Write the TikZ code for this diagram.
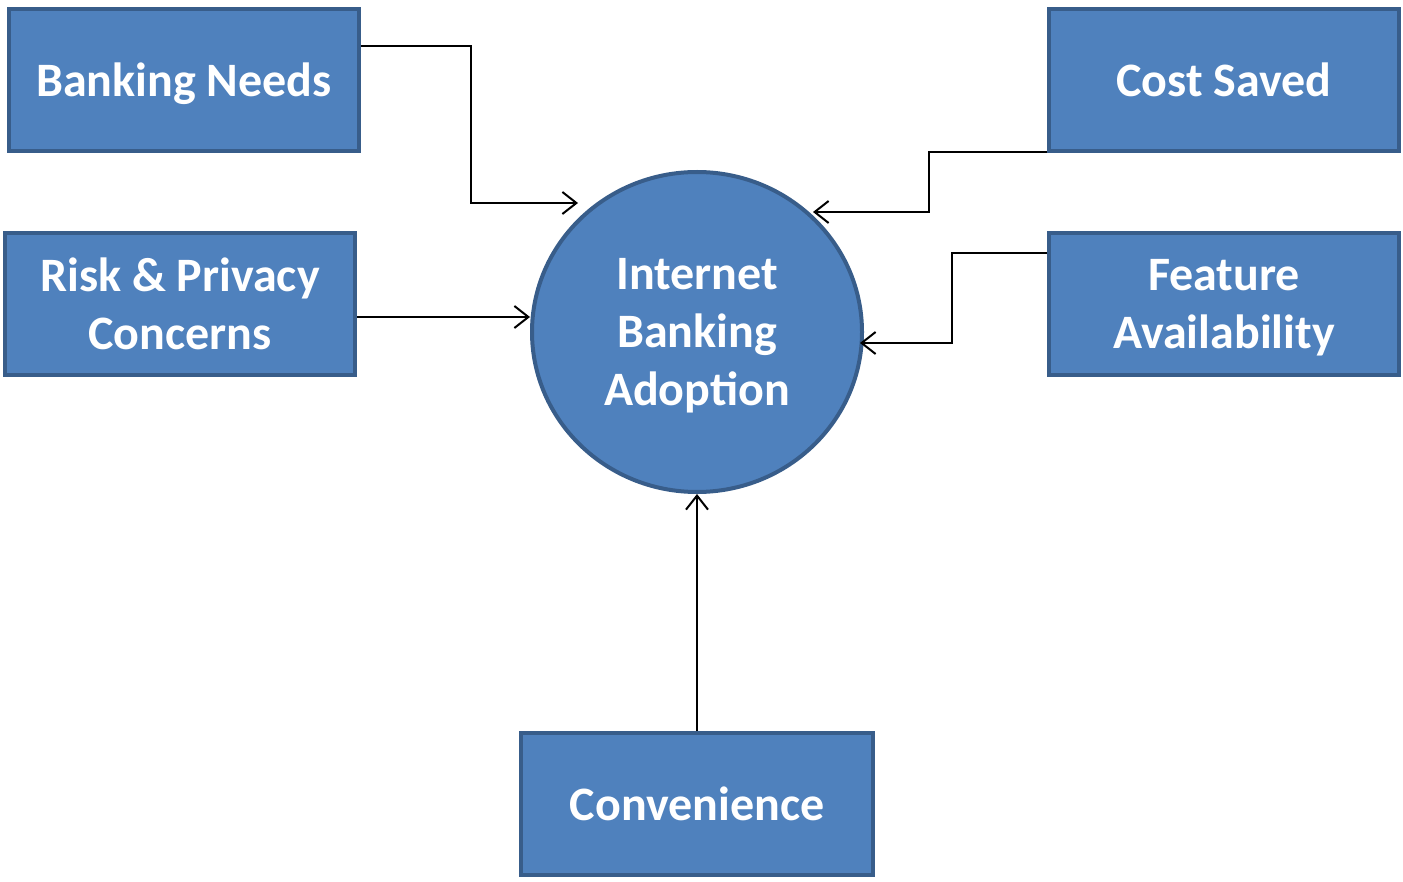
\documentclass[tikz,border=0pt]{standalone}
\usepackage{fontspec}
\setmainfont{Carlito}
\usetikzlibrary{arrows.meta,shapes.geometric}
\definecolor{boxfill}{HTML}{4F81BD}
\definecolor{boxline}{HTML}{385D8A}
\tikzset{
  factor/.style={draw=boxline, fill=boxfill, line width=4pt, rectangle,
    minimum width=350pt, minimum height=142pt, inner sep=0pt,
    text=white, align=center, text depth=0pt,
    font=\fontsize{48}{58}\selectfont\bfseries},
  hub/.style={draw=boxline, fill=boxfill, line width=4pt, ellipse,
    minimum width=330pt, minimum height=320pt, inner sep=0pt,
    text=white, align=center, text depth=0pt,
    font=\fontsize{48}{58}\selectfont\bfseries},
  link/.style={draw=black, line width=2pt,
    -{Straight Barb[length=14pt,width=22pt,line width=2pt]}}
}
\begin{document}
\begin{tikzpicture}[x=1pt,y=-1pt]
  \useasboundingbox (0,0) rectangle (1403,882);

  % central construct
  \node[hub] (iba) at (697,332) {Internet\\Banking\\Adoption};

  % influencing factors
  \node[factor] (needs)   at (184,80)  {Banking Needs};
  \node[factor] (risk)    at (180,304) {Risk \& Privacy\\Concerns};
  \node[factor] (cost)    at (1224,80) {Cost Saved};
  \node[factor] (feature) at (1224,304) {Feature\\Availability};
  \node[factor, minimum width=352pt] (conv) at (697,804) {Convenience};

  % arrow end points near the circle
  \coordinate (needsEnd) at (578,203);
  \coordinate (costEnd)  at (813,212);

  % connectors
  \draw[link] (needs.east |- 0,46) -| (471,120) |- (needsEnd);
  \draw[link] (risk.east |- 0,317) -- (iba.west |- 0,317);
  \draw[link] (cost.west |- 0,152) -| (929,180) |- (costEnd);
  \draw[link] (feature.west |- 0,253) -| (952,300) |- (860,343);
  \draw[link] (conv.north) -- (iba.south);
\end{tikzpicture}
\end{document}
